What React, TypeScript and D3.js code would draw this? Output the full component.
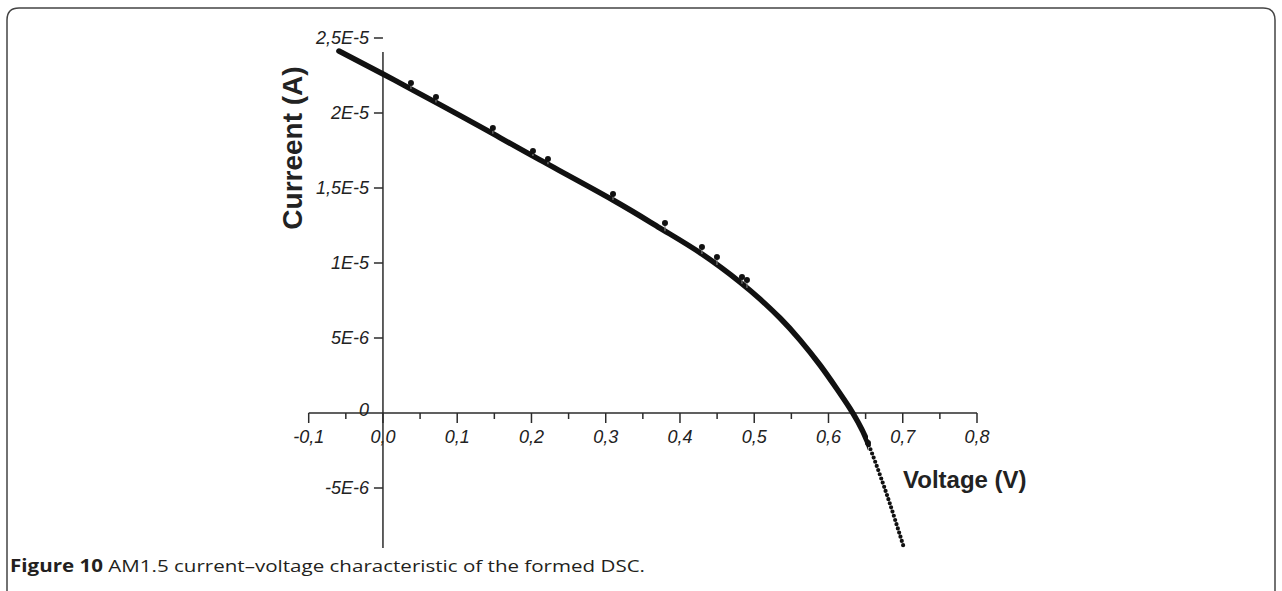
import * as d3 from 'd3';

// I-V curve (V in volts, I in amperes)
const curveV = [-0.0593, 0, 0.0404, 0.1077, 0.1535, 0.2114, 0.3097, 0.3731, 0.4296, 0.4808, 0.5077, 0.5347, 0.5616, 0.5885, 0.6114, 0.629, 0.6397, 0.6532, 0.6734, 0.6868, 0.7017];
const curveI = [2.413e-5, 2.26e-5, 2.153e-5, 1.973e-5, 1.847e-5, 1.687e-5, 1.42e-5, 1.233e-5, 1.06e-5, 8.73e-6, 7.6e-6, 6.33e-6, 4.87e-6, 3.2e-6, 1.6e-6, 3.0e-7, -6.0e-7, -2.0e-6, -4.7e-6, -6.67e-6, -9.0e-6];

// measured points drawn as small pins above the curve
const markerV = [0.0377, 0.0714, 0.148, 0.202, 0.2222, 0.3098, 0.3798, 0.4296, 0.4498, 0.4835, 0.4902, 0.6532];
const markerI = [2.2e-5, 2.107e-5, 1.9e-5, 1.747e-5, 1.693e-5, 1.46e-5, 1.267e-5, 1.107e-5, 1.04e-5, 9.07e-6, 8.87e-6, -2.0e-6];

const xTicks = [-0.1, 0, 0.1, 0.2, 0.3, 0.4, 0.5, 0.6, 0.7, 0.8];
const xTickLabels = ['-0,1', '0,0', '0,1', '0,2', '0,3', '0,4', '0,5', '0,6', '0,7', '0,8'];
const xMinorTicks = [-0.05, 0.05, 0.15, 0.25, 0.35, 0.45, 0.55, 0.65, 0.75];
const yTicks = [-5e-6, 0, 5e-6, 1e-5, 1.5e-5, 2e-5, 2.5e-5];
const yTickLabels = ['-5E-6', '0', '5E-6', '1E-5', '1,5E-5', '2E-5', '2,5E-5'];

const W = 1282;
const H = 591;
const splitV = 0.6532; // beyond this the samples show as separate dots

const App = () => {
  const x = d3.scaleLinear().domain([-0.1, 0.8]).range([308.7, 977]);
  const y = d3.scaleLinear().domain([-9e-6, 2.5e-5]).range([548, 38]);

  const pts = curveV.map((v, i) => ({ v, c: curveI[i] }));
  const line = d3.line<{ v: number; c: number }>()
    .x(d => x(d.v))
    .y(d => y(d.c))
    .curve(d3.curveNatural);
  const curvePath = line(pts) || '';

  // value of the curve under a marker, for the little stem
  const curveAt = (v: number) => {
    const i = Math.max(1, Math.min(curveV.length - 1, d3.bisectLeft(curveV, v)));
    const t = (v - curveV[i - 1]) / (curveV[i] - curveV[i - 1]);
    return curveI[i - 1] + t * (curveI[i] - curveI[i - 1]);
  };

  const axisColor = '#2b2b2b';
  const font = '"Liberation Sans", Arial, sans-serif';
  const x0 = x(0);
  const y0 = y(0);
  const xs = x(splitV);

  return (
    <svg width={W} height={H} style={{ position: 'absolute', left: 0, top: 0, background: '#fff' }}>
      <defs>
        <clipPath id="solidPart"><rect x={0} y={0} width={xs} height={H} /></clipPath>
        <clipPath id="dotPart"><rect x={xs} y={0} width={W - xs} height={H} /></clipPath>
      </defs>

      {/* figure frame */}
      <path d={`M7,${H} V20 Q7,8 19,8 H1263 Q1275,8 1275,20 V${H}`} fill="none" stroke="#444" strokeWidth={1.5} />

      {/* x axis */}
      <line x1={x(-0.1)} x2={x(0.8)} y1={y0} y2={y0} stroke={axisColor} strokeWidth={1.5} />
      {xTicks.map(t => (
        <line key={'xt' + t} x1={x(t)} x2={x(t)} y1={y0} y2={y0 + 10} stroke={axisColor} strokeWidth={1.5} />
      ))}
      {xMinorTicks.map(t => (
        <line key={'xm' + t} x1={x(t)} x2={x(t)} y1={y0} y2={y0 + 6} stroke={axisColor} strokeWidth={1.5} />
      ))}
      {xTicks.map((t, i) => (
        <text key={'xl' + t} x={x(t)} y={y0 + 30} textAnchor="middle" fontFamily={font} fontStyle="italic" fontSize={18} fill="#222">
          {xTickLabels[i]}
        </text>
      ))}

      {/* y axis */}
      <line x1={x0} x2={x0} y1={52} y2={y(-9e-6)} stroke={axisColor} strokeWidth={1.5} />
      {yTicks.map(t => (
        t === 0 ? null :
          <line key={'yt' + t} x1={x0 - 9} x2={x0} y1={y(t)} y2={y(t)} stroke={axisColor} strokeWidth={1.5} />
      ))}
      {yTicks.map((t, i) => (
        <text key={'yl' + t} x={x0 - 14} y={y(t) + (t === 0 ? 3 : 6)} textAnchor="end" fontFamily={font} fontStyle="italic" fontSize={18} fill="#222">
          {yTickLabels[i]}
        </text>
      ))}

      {/* axis titles */}
      <text transform={`translate(302,148) rotate(-90)`} textAnchor="middle" fontFamily={font} fontWeight="bold" fontSize={28} fill="#222">
        Curreent (A)
      </text>
      <text x={903} y={488} fontFamily={font} fontWeight="bold" fontSize={24} fill="#222">
        Voltage (V)
      </text>

      {/* curve: dense samples merge into a solid band, then separate into dots */}
      <path d={curvePath} clipPath="url(#solidPart)" fill="none" stroke="#111" strokeWidth={5.5} strokeLinejoin="round" strokeLinecap="round" />
      <path d={curvePath} clipPath="url(#dotPart)" fill="none" stroke="#111" strokeWidth={4.2} strokeLinecap="round" strokeDasharray="0 4.4" />

      {/* measured points */}
      {markerV.map((v, i) => (
        <g key={'m' + i}>
          <line x1={x(v)} x2={x(v)} y1={y(markerI[i])} y2={y(curveAt(v))} stroke="#777" strokeWidth={1.2} />
          <circle cx={x(v)} cy={y(markerI[i])} r={3} fill="#111" />
        </g>
      ))}

      {/* caption */}
      <text x={10} y={572} fontFamily='"Open Sans", "Noto Sans", sans-serif' fontSize={17} fill="#231f20"
        textLength={635} lengthAdjust="spacingAndGlyphs">
        <tspan fontWeight="bold">Figure 10</tspan>
        <tspan> AM1.5 current–voltage characteristic of the formed DSC.</tspan>
      </text>
    </svg>
  );
};

export default App;
